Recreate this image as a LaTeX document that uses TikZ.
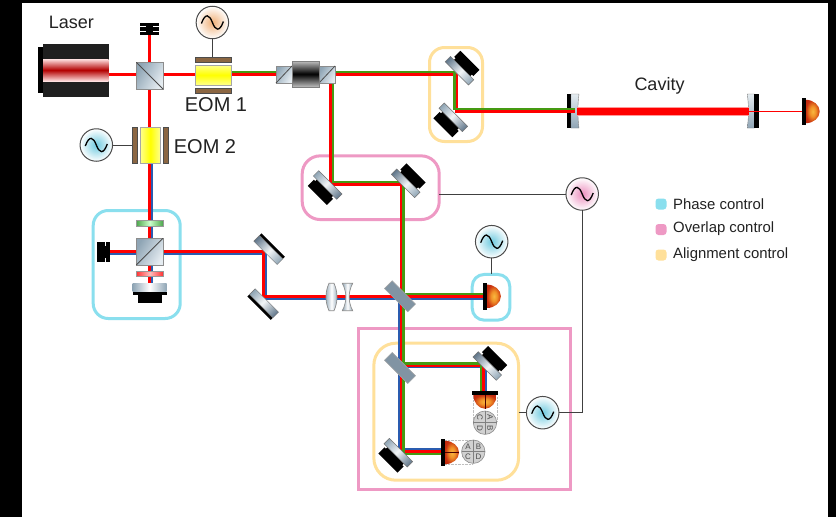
\documentclass[tikz,border=0pt]{standalone}
\usepackage{fontspec}
\setmainfont{Liberation Sans}
\definecolor{ctlcyan}{HTML}{8ADFEE}
\definecolor{ctlpink}{HTML}{EE99C4}
\definecolor{ctlyellow}{HTML}{FFE09A}
\definecolor{srccyan}{HTML}{6FCADF}
\definecolor{srcpink}{HTML}{EC8FBE}
\definecolor{srcorange}{HTML}{F0B078}
\definecolor{beamred}{HTML}{FF0000}
\definecolor{beamgreen}{HTML}{459A12}
\definecolor{beamblue}{HTML}{2A5CB0}
\definecolor{steel}{HTML}{8FA5B5}
\definecolor{steeldark}{HTML}{60768A}
\definecolor{steelwhite}{HTML}{F2F5F7}
\definecolor{steellight}{HTML}{E5ECF1}
\definecolor{brownplate}{HTML}{8B6642}
\definecolor{inktext}{HTML}{222222}
\definecolor{domeA}{HTML}{F8B840}
\definecolor{domeB}{HTML}{F09028}
\definecolor{domeC}{HTML}{C83010}
\definecolor{domeD}{HTML}{B01808}
\pgfdeclareradialshading{dome}{\pgfpoint{0bp}{0bp}}{color(0bp)=(domeA); color(11bp)=(domeB); color(25bp)=(domeC); color(50bp)=(domeD)}
\pgfdeclarehorizontalshading{mirrorplate}{100bp}{color(0bp)=(steeldark); color(25bp)=(steeldark); color(52bp)=(steelwhite); color(75bp)=(steel); color(100bp)=(steel)}
\tikzset{
  ctlbox/.style={draw=#1,line width=3pt,rounded corners=15pt,inner sep=0pt,outer sep=0pt},
  srcnode/.style={circle,draw=black!70,line width=1pt,inner sep=0pt,outer sep=0pt,minimum size=32.5pt,inner color=#1,outer color=white},
  wire/.style={draw=black!75,line width=1pt},
  redbeam/.style={draw=beamred,line width=2.5pt},
  greenbeam/.style={draw=beamgreen,line width=2.5pt},
  bluebeam/.style={draw=beamblue,line width=2.5pt},
  cube/.style={draw=black!45,line width=0.8pt,left color=steel,right color=steellight,shading angle=60},
  bigtext/.style={text=inktext,font=\fontsize{20}{24}\selectfont,inner sep=0pt},
  midtext/.style={text=inktext,font=\fontsize{18}{22}\selectfont,inner sep=0pt},
  legtext/.style={text=inktext,font=\fontsize{14.9}{18}\selectfont,inner sep=0pt,anchor=west},
  legdot/.style={fill=#1,rounded corners=3pt,minimum size=11pt,inner sep=0pt},
  brown/.style={fill=brownplate,draw=black!70,line width=0.4pt},
  yellowcell/.style={draw=black!35,line width=0.8pt},
  lensshape/.style={draw=black!45,line width=0.7pt,left color=steel,right color=steel,middle color=white},
  platesteel/.style={shading=mirrorplate,draw=black!55,line width=0.5pt},
}
% mirror on mount: plate with a stepped black mount behind it
\newcommand{\mountmirror}[3]{%
  \begin{scope}[transform canvas={shift={(#1,#2)},rotate=#3}]
    \fill[black] (-13.5,-14.7) rectangle (13.5,-6);
    \fill[black] (-11.5,-7) rectangle (11.5,-3.5);
    \path[platesteel] (-16.5,-3.75) rectangle (16.5,3.75);
  \end{scope}}
% mirror with only a black back strip
\newcommand{\flatmirror}[3]{%
  \begin{scope}[transform canvas={shift={(#1,#2)},rotate=#3}]
    \fill[black] (-16.5,-6) rectangle (16.5,-3);
    \path[platesteel] (-16.5,-3) rectangle (16.5,5);
  \end{scope}}
% beam-splitter plate
\newcommand{\splitter}[2]{%
  \begin{scope}[transform canvas={shift={(#1,#2)},rotate=-45}]
    \fill[fill=steel!90!black,draw=black!35,line width=0.4pt] (-16.5,-5.5) rectangle (16.5,5.5);
  \end{scope}}
% photodiode looking left, rotated by #3
\newcommand{\diode}[4]{%
  \begin{scope}[transform canvas={shift={(#1,#2)},rotate=#3}]
    \path[shading=dome]
      (4,-11.7) .. controls (11.7,-11.7) and (18,-6.4) .. (18,0) .. controls (18,6.4) and (11.7,11.7) .. (4,11.7) -- cycle;
    \fill[black] (0,-13.3) rectangle (4,13.3);
    #4
  \end{scope}}
% quadrant disc
\newcommand{\quaddisc}[4]{%
  \begin{scope}[transform canvas={shift={(#2,#3)},rotate=#4}]
    \fill[fill=black!18,draw=black!45,line width=0.6pt] (0,0) circle[radius=11.7];
    \draw[black!50,line width=0.6pt] (-11.7,0) -- (11.7,0) (0,-11.7) -- (0,11.7);
    \node[text=black!70,font=\fontsize{8}{8}\selectfont,inner sep=0pt] (#1a) at (-5.2,-5.2) {A};
    \node[text=black!70,font=\fontsize{8}{8}\selectfont,inner sep=0pt] (#1b) at (5.2,-5.2) {B};
    \node[text=black!70,font=\fontsize{8}{8}\selectfont,inner sep=0pt] (#1c) at (-5.2,5.2) {C};
    \node[text=black!70,font=\fontsize{8}{8}\selectfont,inner sep=0pt] (#1d) at (5.2,5.2) {D};
  \end{scope}}
\newcommand{\sinewave}[1]{%
  \draw[black,line width=1.3pt,shift={(#1.center)}] (-11,1) .. controls (-7,-10) and (-3,-8) .. (0,0) .. controls (3,8) and (7,10) .. (11,-1);}
\begin{document}
\begin{tikzpicture}[x=1pt,y=-1pt]
\useasboundingbox (0,0) rectangle (836,517);
\fill[black] (0,0) rectangle (836,517);
\fill[white] (22,3) rectangle (828,517);

% control boxes
\node[ctlbox=ctlcyan,minimum width=87pt,minimum height=108pt] (boxphaseA) at (136.7,264.5) {};
\node[ctlbox=ctlyellow,minimum width=53pt,minimum height=94pt] (boxalignA) at (456,94.5) {};
\node[ctlbox=ctlpink,minimum width=137pt,minimum height=63.7pt,rounded corners=18pt] (boxoverA) at (370.7,187.7) {};
\node[ctlbox=ctlcyan,minimum width=37.6pt,minimum height=45.7pt,rounded corners=12pt] (boxphaseB) at (491,297.3) {};
\node[ctlbox=ctlyellow,minimum width=144.7pt,minimum height=137pt,rounded corners=22pt] (boxalignB) at (446.2,411.7) {};
\node[ctlbox=ctlpink,minimum width=211.4pt,minimum height=160.7pt,rounded corners=0pt] (boxoverB) at (464.5,409.2) {};

% cavity mirrors (beams pass over them)
\fill[black] (567,94) rectangle (571,128);
\path[top color=steellight,bottom color=steel,draw=black!50,line width=0.4pt]
  (571,94) -- (579,94) .. controls (577.5,105) and (577.5,117) .. (579,128) -- (571,128) -- cycle;
\path[top color=steellight,bottom color=steel,draw=black!50,line width=0.4pt]
  (747.3,94) -- (754.3,94) -- (754.3,128) -- (747.3,128) .. controls (748.8,117) and (748.8,105) .. (747.3,94) -- cycle;
\fill[black] (754.3,94) rectangle (759.3,128);

% beams
\draw[line width=8.6pt,draw=red!40] (577,111.3) -- (749,111.3);
\draw[line width=7pt,draw=beamred] (577,111.3) -- (749,111.3);
\draw[draw=beamred,line width=1.6pt] (749,111.3) -- (802,111.3);

\draw[bluebeam] (152,163) -- (152,284);
\draw[bluebeam] (97,254) -- (266,254) -- (266,298.7) -- (483,298.7);
\draw[bluebeam] (399.7,298.7) -- (399.7,449.5) -- (441,449.5);
\draw[bluebeam] (399.7,367) -- (486,367) -- (486,391);

\draw[redbeam] (109,74.5) -- (456.5,74.5) -- (456.5,111.3) -- (575,111.3);
\draw[redbeam] (149.5,30) -- (149.5,284);
\draw[redbeam] (330.5,83) -- (330.5,184.5) -- (401.5,184.5) -- (401.5,451.5) -- (441,451.5);
\draw[redbeam] (97,251.3) -- (263.3,251.3) -- (263.3,296.7) -- (483,296.7);
\draw[redbeam] (401.5,365.3) -- (483.3,365.3) -- (483.3,391);

\draw[greenbeam] (231,72) -- (454.3,72) -- (454.3,109) -- (575,109);
\draw[greenbeam] (333,83) -- (333,182) -- (403.7,182) -- (403.7,454) -- (441,454);
\draw[greenbeam] (403.7,294) -- (483,294);
\draw[greenbeam] (403.7,363.7) -- (481,363.7) -- (481,391);

% laser
\fill[black] (38,47) rectangle (43,93);
\fill[black!88] (43,44) rectangle (109,97);
\fill[top color=red!12,bottom color=red!12,middle color=red!70!black] (43,59) rectangle (108.5,81);

% polarising cube 1 and dump
\foreach \yy/\hh in {23/3.4,27.4/3.4,31.8/3.4}{\fill[black] (140,\yy) rectangle (159,\yy+\hh);}
\fill[black] (146,24) rectangle (153,34);
\draw[cube] (136.3,62.3) rectangle (163,89);
\draw[black!70,line width=0.8pt] (136.3,62.3) -- (163,89);

% EOM 1
\draw[brown] (195.3,57) rectangle (231,62);
\draw[brown] (195.3,88) rectangle (231,93);
\path[yellowcell,top color=yellow!45,bottom color=yellow!45,middle color=yellow] (195.3,65) rectangle (231,85);

% EOM 2
\draw[brown] (132,127) rectangle (137.5,163);
\draw[brown] (162.7,127) rectangle (168,163);
\path[yellowcell,left color=yellow!45,right color=yellow!45,middle color=yellow] (140.3,127) rectangle (160.3,163);

% isolator
\draw[cube] (276,66) rectangle (292,83);
\draw[black!70,line width=0.8pt] (276,83) -- (292,66);
\draw[cube] (319,66) rectangle (335,83);
\draw[black!70,line width=0.8pt] (319,83) -- (335,66);
\path[draw=black!50,line width=0.8pt,top color=black!25,bottom color=black!25,middle color=black] (292,61) rectangle (319,87);

% phase-control optics on the left
\foreach \xx in {96.7,101.4,106.1}{\fill[black] (\xx,242.3) rectangle (\xx+3.9,261.7);}
\fill[black] (98,246) rectangle (108,258);
\path[draw=black!40,line width=0.6pt,left color=green!50!black!70,right color=green!50!black!70,middle color=green!20] (136.3,220) rectangle (163,226);
\draw[cube] (136.3,238.3) rectangle (163,265);
\draw[black!70,line width=0.8pt] (136.3,265) -- (163,238.3);
\path[draw=black!40,line width=0.6pt,left color=red!80,right color=red!80,middle color=red!25] (136.3,271) rectangle (163,276.7);
\path[left color=steel,right color=steel,middle color=white] (132.7,283.3) rectangle (166.7,291.7);
\fill[black] (132.7,291.7) rectangle (166.7,295);
\fill[black] (137.7,295) rectangle (162,303);

% steering mirrors
\flatmirror{269}{249.3}{-45}
\flatmirror{263.3}{304}{135}

% lenses
\path[lensshape] (329,283.3) -- (334,283.3) .. controls (338,292) and (338,302) .. (334,310.7) -- (329,310.7) .. controls (325,302) and (325,292) .. (329,283.3) -- cycle;
\path[lensshape] (342.3,283.3) -- (352.7,283.3) .. controls (348,292) and (348,302) .. (352.7,310.7) -- (342.3,310.7) .. controls (347,302) and (347,292) .. (342.3,283.3) -- cycle;

% mounted mirrors
\mountmirror{459.5}{70.7}{-45}
\mountmirror{453.3}{117.3}{135}
\mountmirror{327.7}{185}{135}
\mountmirror{405.7}{183.3}{-45}
\mountmirror{487.3}{366}{-45}
\mountmirror{398.3}{452.7}{135}

% beam splitters
\splitter{400}{296.3}
\splitter{400}{368}

% faint outlines round the quadrant detectors
\draw[black!25,densely dotted,line width=0.4pt] (473,397) -- (473,422) (497,397) -- (497,422);
\draw[black!25,densely dotted,line width=0.4pt] (445,440.5) -- (473,440.5) (445,464) -- (473,464);

% detectors
\diode{482.9}{296.3}{0}{}
\diode{801.7}{111.5}{0}{}
\diode{485}{390.7}{-90}{\draw[black!70!red,line width=0.7pt] (4,0) -- (18,0);}
\diode{441}{452.5}{0}{\draw[black!70!red,line width=0.7pt] (4,0) -- (18,0);}
\quaddisc{qtop}{485}{422.7}{-90}
\quaddisc{qleft}{473.3}{451.7}{0}

% sources
\node[srcnode=srcorange] (srcA) at (212.4,22.5) {};
\node[srcnode=srccyan] (srcB) at (96.3,145) {};
\node[srcnode=srcpink] (srcC) at (582.2,194) {};
\node[srcnode=srccyan] (srcD) at (491.7,241.7) {};
\node[srcnode=srccyan] (srcE) at (542.7,412.7) {};
\sinewave{srcA}\sinewave{srcB}\sinewave{srcC}\sinewave{srcD}\sinewave{srcE}

% wires
\coordinate (eomAtop) at (212.4,57);
\coordinate (eomBleft) at (132,145);
\coordinate (corner) at (582.2,412.7);
\draw[wire] (srcA) -- (eomAtop);
\draw[wire] (srcB) -- (eomBleft);
\draw[wire] (boxoverA.east |- srcC) -- (srcC);
\draw[wire] (srcC) -- (corner) -- (srcE);
\draw[wire] (srcD) -- (boxphaseB.north -| srcD);
\draw[wire] (boxalignB.east |- srcE) -- (srcE);

% labels
\node[midtext] (lblLaser) at (71.3,22) {Laser};
\node[bigtext] (lblEOMa) at (216,105) {EOM 1};
\node[bigtext] (lblEOMb) at (205,147) {EOM 2};
\node[midtext] (lblCavity) at (659.5,85.5) {Cavity};
\node[legdot=ctlcyan] (dotA) at (661,204) {};
\node[legdot=ctlpink] (dotB) at (661,229.5) {};
\node[legdot=ctlyellow] (dotC) at (661,255) {};
\node[legtext] (legA) at (673,204) {Phase control};
\node[legtext] (legB) at (673,229) {Overlap control};
\node[legtext] (legC) at (673,254.5) {Alignment control};
\end{tikzpicture}
\end{document}
